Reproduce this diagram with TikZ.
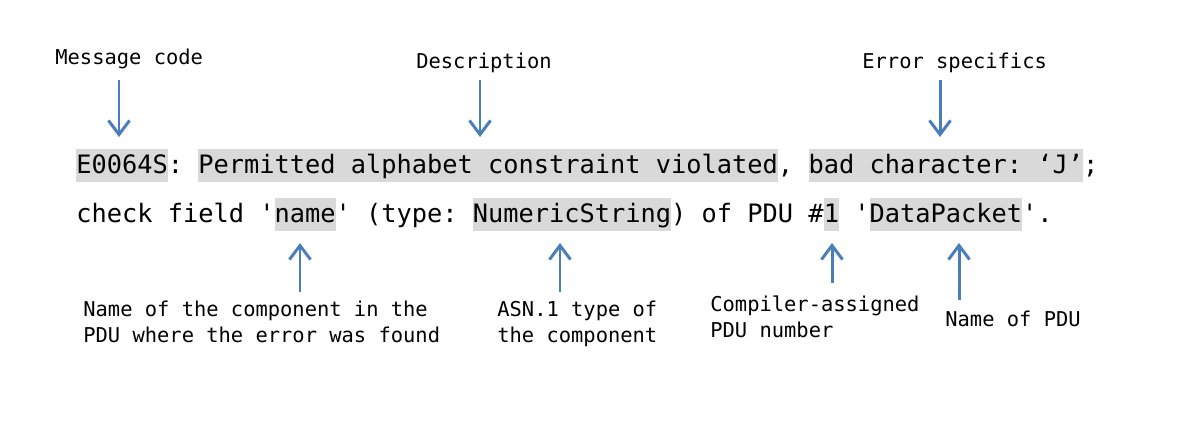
\documentclass[tikz,border=0pt]{standalone}
\usepackage{fontspec}
\setmonofont{DejaVu Sans Mono}
\usetikzlibrary{arrows.meta}
\definecolor{arrowblue}{HTML}{4A7EBB}
\definecolor{hlgray}{HTML}{D9D9D9}
\newsavebox\hlsave
\newcommand{\hlbox}[1]{\sbox\hlsave{#1}\rlap{\color{hlgray}\rule[-0.17cm]{\wd\hlsave}{0.66cm}}\usebox\hlsave}
\tikzset{
  msgline/.style={font=\ttfamily\fontsize{14.42pt}{17pt}\selectfont,inner sep=0pt,anchor=base west},
  note/.style={font=\ttfamily\fontsize{11.63pt}{14.74pt}\selectfont,inner sep=0pt,align=left},
  ptr/.style={-{Straight Barb[length=8pt,width=12pt]},line width=1.7pt,arrowblue}
}
\begin{document}
\begin{tikzpicture}[x=0.02cm,y=-0.02cm]
  \useasboundingbox (0,0) rectangle (1180,420);
  \node[msgline] (row1) at (76,173.5)
    {\hlbox{E0064S}: \hlbox{Permitted alphabet constraint violated}, \hlbox{bad character: ‘J’};};
  \node[msgline] (row2) at (76,222)
    {check field '\hlbox{name}' (type: \hlbox{NumericString}) of PDU \#\hlbox{1} '\hlbox{DataPacket}'.};
  \node[note,anchor=base west] (code) at (55,64) {Message code};
  \node[note,anchor=base] (desc) at (484,68) {Description};
  \node[note,anchor=base west] (spec) at (862,68) {Error specifics};
  \node[note,anchor=base west] (field) at (83,342) {Name of the component in the\\PDU where the error was found};
  \node[note,anchor=base west] (type) at (497,342) {ASN.1 type of\\the component};
  \node[note,anchor=base west] (num) at (710,337) {Compiler-assigned\\PDU number};
  \node[note,anchor=base west] (pdu) at (945,326) {Name of PDU};
  \coordinate (codeTail) at (119,80);
  \coordinate (codeTip) at (119,137);
  \coordinate (descTail) at (480,80);
  \coordinate (descTip) at (480,137);
  \coordinate (specTail) at (940,80);
  \coordinate (specTip) at (940,137);
  \coordinate (fieldTail) at (300,292);
  \coordinate (fieldTip) at (300,243);
  \coordinate (typeTail) at (560,292);
  \coordinate (typeTip) at (560,243);
  \coordinate (numTail) at (832,283);
  \coordinate (numTip) at (832,243);
  \coordinate (pduTail) at (959,300);
  \coordinate (pduTip) at (959,243);
  \draw[ptr] (codeTail) -- (codeTip);
  \draw[ptr] (descTail) -- (descTip);
  \draw[ptr] (specTail) -- (specTip);
  \draw[ptr] (fieldTail) -- (fieldTip);
  \draw[ptr] (typeTail) -- (typeTip);
  \draw[ptr] (numTail) -- (numTip);
  \draw[ptr] (pduTail) -- (pduTip);
\end{tikzpicture}
\end{document}
